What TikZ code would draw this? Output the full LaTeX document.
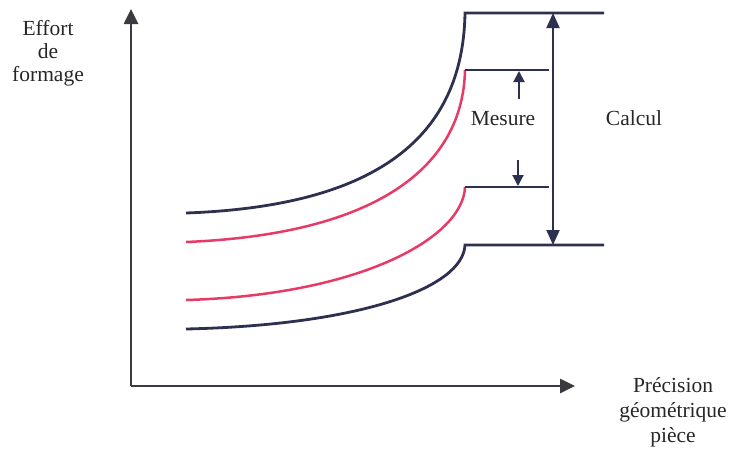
\documentclass[tikz,border=0pt]{standalone}
\usepackage{fontspec}
\setmainfont{Liberation Serif}
\usetikzlibrary{arrows.meta}
\definecolor{navy}{HTML}{2E3050}
\definecolor{rose}{HTML}{E83A66}
\definecolor{axisc}{HTML}{3A3A40}
\begin{document}
\begin{tikzpicture}[x=1pt,y=-1pt,
  dark/.style={draw=navy,line width=2.8pt},
  red/.style={draw=rose,line width=2.5pt},
  axis/.style={draw=axisc,line width=2.6pt,-{Triangle[width=14pt,length=15pt]}},
  dim/.style={draw=navy,line width=2pt,{Triangle[width=13pt,length=15pt]}-{Triangle[width=13pt,length=15pt]}},
  small/.style={draw=navy,line width=2pt,-{Triangle[width=11pt,length=11pt]}},
  lbl/.style={font=\fontsize{21.5}{23}\selectfont,align=center,text=black!85,inner sep=0pt},
  lblx/.style={lbl,font=\fontsize{21.5}{25}\selectfont}]
\useasboundingbox (0,0) rectangle (730,451);
\coordinate (o) at (131,386);
\coordinate (ytip) at (131,9);
\coordinate (xtip) at (575,386);
\draw[axis] (o) -- (ytip);
\draw[axis] (o) -- (xtip);
% curves
\coordinate (a0) at (186,213); \coordinate (a1) at (465,13); \coordinate (a2) at (604,13);
\coordinate (b0) at (186,242); \coordinate (b1) at (465,70); \coordinate (b2) at (549,70);
\coordinate (c0) at (186,300); \coordinate (c1) at (465,187); \coordinate (c2) at (549,187);
\coordinate (d0) at (186,329); \coordinate (d1) at (465,245); \coordinate (d2) at (604,245);
\draw[dark] (a0) .. controls (380,206) and (463,135) .. (a1) -- (a2);
\draw[red] (b0) .. controls (380,234) and (463,165) .. (b1);
\draw[dark] (b1) -- (b2);
\draw[red] (c0) .. controls (360,295) and (463,238) .. (c1);
\draw[dark] (c1) -- (c2);
\draw[dark] (d0) .. controls (360,325) and (463,288) .. (d1) -- (d2);
% dimension arrows
\coordinate (ct) at (553,13); \coordinate (cb) at (553,245);
\draw[dim] (ct) -- (cb);
\coordinate (mu0) at (519,99); \coordinate (mu1) at (519,71);
\coordinate (md0) at (518,160); \coordinate (md1) at (518,186);
\draw[small] (mu0) -- (mu1);
\draw[small] (md0) -- (md1);
% labels
\node[lbl,anchor=base] (mes) at (503,125) {Mesure};
\node[lbl,anchor=base] (cal) at (634,125) {Calcul};
\node[lbl,anchor=north] (ylab) at (48,20) {Effort\\de\\formage};
\node[lblx,anchor=north] (xlab) at (673,377) {Précision\\géométrique\\pièce};
\end{tikzpicture}
\end{document}
